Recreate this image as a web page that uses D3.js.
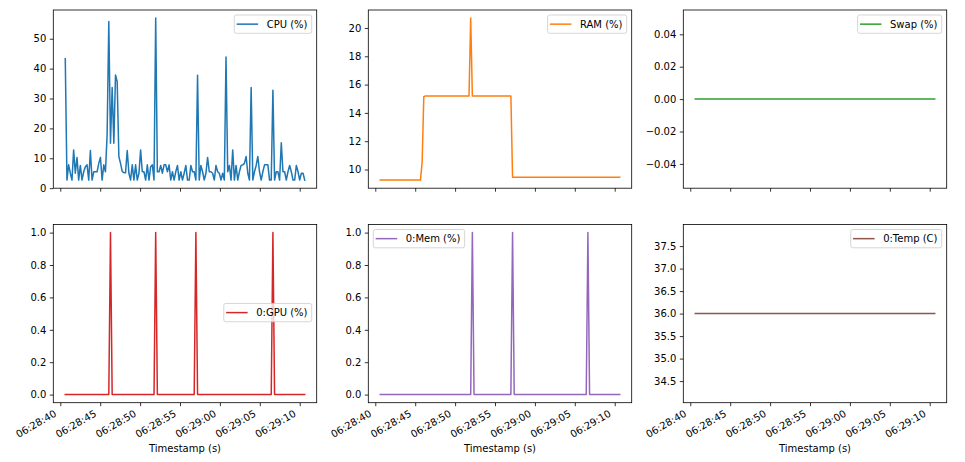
<!DOCTYPE html>
<html><head><meta charset="utf-8">
<script src="https://cdn.jsdelivr.net/npm/d3@7"></script>
<style>
body{margin:0;background:#fff;}
svg{display:block;}
text{font-family:"DejaVu Sans",sans-serif;font-size:10px;fill:#000;}
</style>
</head><body><svg id="c" width="965" height="462"></svg>
<script>
// ---------------- data ----------------
const startTime = "06:28:40.625";   // first sample
const sampleIntervalMs = 209.8;     // sampling period of the monitor

const cpu = [
43.3,2.7,7.8,5.0,2.7,12.8,5.0,10.3,2.7,7.6,2.7,5.5,
7.2,7.8,2.7,12.6,2.7,5.5,5.5,5.5,8.3,10.3,2.7,7.8,
5.5,18.0,55.8,15.0,33.7,15.0,37.9,35.6,10.6,8.3,5.6,5.2,
5.2,12.6,5.0,2.7,7.8,2.7,7.8,2.7,5.0,12.8,5.5,5.5,
2.7,7.8,2.7,7.2,7.8,2.7,56.9,5.5,5.5,7.6,5.0,7.8,
7.8,5.5,7.8,2.7,5.5,2.7,5.5,7.6,2.7,5.5,2.7,5.0,
7.6,2.7,2.7,7.6,5.5,5.5,2.7,37.8,2.7,7.6,5.5,2.7,
5.0,10.3,5.5,5.5,5.0,2.7,7.6,5.5,5.0,2.7,5.0,2.7,
43.9,5.5,7.6,2.7,12.8,2.7,7.6,2.7,5.5,7.6,7.8,8.3,
10.6,5.0,2.7,33.7,2.7,5.5,7.6,10.6,5.5,2.7,5.5,7.8,
7.8,7.8,2.7,2.7,32.8,2.7,5.5,5.5,2.7,15.2,5.5,5.5,
2.7,5.5,7.6,5.5,2.7,2.7,7.6,5.5,2.7,5.0,5.0,2.7];

const ram = [
9.25,9.25,9.25,9.25,9.25,9.25,9.25,9.25,9.25,9.25,9.25,9.25,
9.25,9.25,9.25,9.25,9.25,9.25,9.25,9.25,9.25,9.25,9.25,9.25,
9.25,10.5,15.15,15.2,15.2,15.2,15.2,15.2,15.2,15.2,15.2,15.2,
15.2,15.2,15.2,15.2,15.2,15.2,15.2,15.2,15.2,15.2,15.2,15.2,
15.2,15.2,15.2,15.2,15.2,15.2,20.7,15.2,15.2,15.2,15.2,15.2,
15.2,15.2,15.2,15.2,15.2,15.2,15.2,15.2,15.2,15.2,15.2,15.2,
15.2,15.2,15.2,15.2,15.2,15.2,15.2,9.45,9.45,9.45,9.45,9.45,
9.45,9.45,9.45,9.45,9.45,9.45,9.45,9.45,9.45,9.45,9.45,9.45,
9.45,9.45,9.45,9.45,9.45,9.45,9.45,9.45,9.45,9.45,9.45,9.45,
9.45,9.45,9.45,9.45,9.45,9.45,9.45,9.45,9.45,9.45,9.45,9.45,
9.45,9.45,9.45,9.45,9.45,9.45,9.45,9.45,9.45,9.45,9.45,9.45,
9.45,9.45,9.45,9.45,9.45,9.45,9.45,9.45,9.45,9.45,9.45,9.45];

const swap = [
0,0,0,0,0,0,0,0,0,0,0,0, 0,0,0,0,0,0,0,0,0,0,0,0,
0,0,0,0,0,0,0,0,0,0,0,0, 0,0,0,0,0,0,0,0,0,0,0,0,
0,0,0,0,0,0,0,0,0,0,0,0, 0,0,0,0,0,0,0,0,0,0,0,0,
0,0,0,0,0,0,0,0,0,0,0,0, 0,0,0,0,0,0,0,0,0,0,0,0,
0,0,0,0,0,0,0,0,0,0,0,0, 0,0,0,0,0,0,0,0,0,0,0,0,
0,0,0,0,0,0,0,0,0,0,0,0, 0,0,0,0,0,0,0,0,0,0,0,0];

const gpu = [
0,0,0,0,0,0,0,0,0,0,0,0, 0,0,0,0,0,0,0,0,0,0,0,0,
0,0,0,1,0,0,0,0,0,0,0,0, 0,0,0,0,0,0,0,0,0,0,0,0,
0,0,0,0,0,0,1,0,0,0,0,0, 0,0,0,0,0,0,0,0,0,0,0,0,
0,0,0,0,0,0,1,0,0,0,0,0, 0,0,0,0,0,0,0,0,0,0,0,0,
0,0,0,0,0,0,0,0,0,0,0,0, 0,0,0,0,0,0,0,0,0,0,0,0,
0,0,0,0,1,0,0,0,0,0,0,0, 0,0,0,0,0,0,0,0,0,0,0,0];

const gpuMem = [
0,0,0,0,0,0,0,0,0,0,0,0, 0,0,0,0,0,0,0,0,0,0,0,0,
0,0,0,0,0,0,0,0,0,0,0,0, 0,0,0,0,0,0,0,0,0,0,0,0,
0,0,0,0,0,0,0,1,0,0,0,0, 0,0,0,0,0,0,0,0,0,0,0,0,
0,0,0,0,0,0,0,1,0,0,0,0, 0,0,0,0,0,0,0,0,0,0,0,0,
0,0,0,0,0,0,0,0,0,0,0,0, 0,0,0,0,0,0,0,0,0,0,0,0,
0,0,0,0,1,0,0,0,0,0,0,0, 0,0,0,0,0,0,0,0,0,0,0,0];

const gpuTemp = [
36,36,36,36,36,36,36,36,36,36,36,36, 36,36,36,36,36,36,36,36,36,36,36,36,
36,36,36,36,36,36,36,36,36,36,36,36, 36,36,36,36,36,36,36,36,36,36,36,36,
36,36,36,36,36,36,36,36,36,36,36,36, 36,36,36,36,36,36,36,36,36,36,36,36,
36,36,36,36,36,36,36,36,36,36,36,36, 36,36,36,36,36,36,36,36,36,36,36,36,
36,36,36,36,36,36,36,36,36,36,36,36, 36,36,36,36,36,36,36,36,36,36,36,36,
36,36,36,36,36,36,36,36,36,36,36,36, 36,36,36,36,36,36,36,36,36,36,36,36];

const seriesNames = ["CPU (%)","RAM (%)","Swap (%)","0:GPU (%)","0:Mem (%)","0:Temp (C)"];
const xTickLabels = ["06:28:40","06:28:45","06:28:50","06:28:55","06:29:00","06:29:05","06:29:10"];
const yTicksCpu = [0,10,20,30,40,50];
const yTicksRam = [10,12,14,16,18,20];
const yTicksSwap = [-0.04,-0.02,0,0.02,0.04];
const yTicksGpu = [0,0.2,0.4,0.6,0.8,1.0];
const yTicksMem = [0,0.2,0.4,0.6,0.8,1.0];
const yTicksTemp = [34.5,35.0,35.5,36.0,36.5,37.0,37.5];
const xLabel = "Timestamp (s)";

// ---------------- layout ----------------
const colors = ["#1f77b4","#ff7f0e","#2ca02c","#d62728","#9467bd","#8c564b"];
const colX = [53.3, 368.3, 683.3];
const rowY = [10, 224.5];
const PW = 263.4, PH = 178.2;

const parseT = d3.timeParse("%H:%M:%S.%L");
const parseTick = d3.timeParse("%H:%M:%S");
const t0 = parseT(startTime);
const times = cpu.map((_, i) => new Date(t0.getTime() + i * sampleIntervalMs));

function mplLimits(lo, hi) {
  if (Math.abs(hi - lo) < 1e-12) {
    const e = lo === 0 ? 0.05 : Math.abs(lo) * 0.05;
    lo -= e; hi += e;
  }
  const m = (hi - lo) * 0.05;
  return [lo - m, hi + m];
}
const tMin = +times[0], tMax = +times[times.length - 1];
const xDom = mplLimits(tMin, tMax).map(v => new Date(v));
const xTicks = xTickLabels.map(s => parseTick(s));

const panels = [
  {vals: cpu,     ticks: yTicksCpu,  fmt: d3.format("d"),    loc: "upper right"},
  {vals: ram,     ticks: yTicksRam,  fmt: d3.format("d"),    loc: "upper right"},
  {vals: swap,    ticks: yTicksSwap, fmt: d3.format(".2f"),  loc: "upper right"},
  {vals: gpu,     ticks: yTicksGpu,  fmt: d3.format(".1f"),  loc: "center right"},
  {vals: gpuMem,  ticks: yTicksMem,  fmt: d3.format(".1f"),  loc: "upper left"},
  {vals: gpuTemp, ticks: yTicksTemp, fmt: d3.format(".1f"),  loc: "upper right"}
];

const svg = d3.select("#c");
svg.append("rect").attr("width", 965).attr("height", 462).attr("fill", "#fff");

panels.forEach((p, k) => {
  const col = k % 3, row = Math.floor(k / 3);
  const g = svg.append("g").attr("transform", `translate(${colX[col]},${rowY[row]})`);
  const x = d3.scaleTime().domain(xDom).range([0, PW]);
  const yd = mplLimits(d3.min(p.vals), d3.max(p.vals));
  const y = d3.scaleLinear().domain(yd).range([PH, 0]);

  // line
  const line = d3.line().x((d, i) => x(times[i])).y(d => y(d));
  g.append("path").datum(p.vals).attr("d", line)
    .attr("fill", "none").attr("stroke", colors[k]).attr("stroke-width", 1.5)
    .attr("stroke-linejoin", "round").attr("stroke-linecap", "square");

  // y axis
  const ya = d3.axisLeft(y).tickValues(p.ticks).tickSize(3.5).tickPadding(3.5)
    .tickFormat(d => p.fmt(d).replace("-", "\u2212"));
  const yg = g.append("g").call(ya);
  yg.select(".domain").remove();
  yg.selectAll("line").attr("stroke", "#000").attr("stroke-width", 0.8);
  yg.selectAll("text").attr("font-family", "DejaVu Sans").attr("font-size", 10).attr("fill", "#000");

  // x axis
  const xa = d3.axisBottom(x).tickValues(xTicks).tickSize(3.5).tickFormat("");
  const xg = g.append("g").attr("transform", `translate(0,${PH})`).call(xa);
  xg.select(".domain").remove();
  xg.selectAll("line").attr("stroke", "#000").attr("stroke-width", 0.8);

  if (row === 1) {
    xTicks.forEach((t, i) => {
      const tx = x(t);
      g.append("text").attr("transform", `translate(${tx - 7},${PH + 6}) rotate(-30)`)
        .attr("text-anchor", "end").attr("y", 8).text(xTickLabels[i]);
    });
    g.append("text").attr("x", PW / 2).attr("y", 452 - rowY[1])
      .attr("text-anchor", "middle").text(xLabel);
  }

  // frame
  g.append("rect").attr("x", 0).attr("y", 0).attr("width", PW).attr("height", PH)
    .attr("fill", "none").attr("stroke", "#000").attr("stroke-width", 0.8);

  // legend
  const lg = g.append("g");
  const txt = lg.append("text").text(seriesNames[k]);
  const tw = txt.node().getComputedTextLength();
  const bw = 32.4 + tw + 4.2, bh = 18.3;
  let bx, by;
  if (p.loc === "upper right") { bx = PW - 5 - bw; by = 5; }
  else if (p.loc === "upper left") { bx = 5; by = 5; }
  else { bx = PW - 5 - bw; by = PH / 2 - bh / 2 - 1; }
  lg.insert("rect", "text").attr("x", bx).attr("y", by).attr("width", bw).attr("height", bh)
    .attr("rx", 2).attr("fill", "#fff").attr("fill-opacity", 0.8)
    .attr("stroke", "#cccccc").attr("stroke-opacity", 0.8).attr("stroke-width", 1);
  lg.insert("line", "text").attr("x1", bx + 3.1).attr("x2", bx + 23.1)
    .attr("y1", by + bh / 2).attr("y2", by + bh / 2)
    .attr("stroke", colors[k]).attr("stroke-width", 1.5).attr("stroke-linecap", "square");
  txt.attr("x", bx + 32.4).attr("y", by + bh / 2).attr("dy", "0.36em");
});
</script>
</body></html>
